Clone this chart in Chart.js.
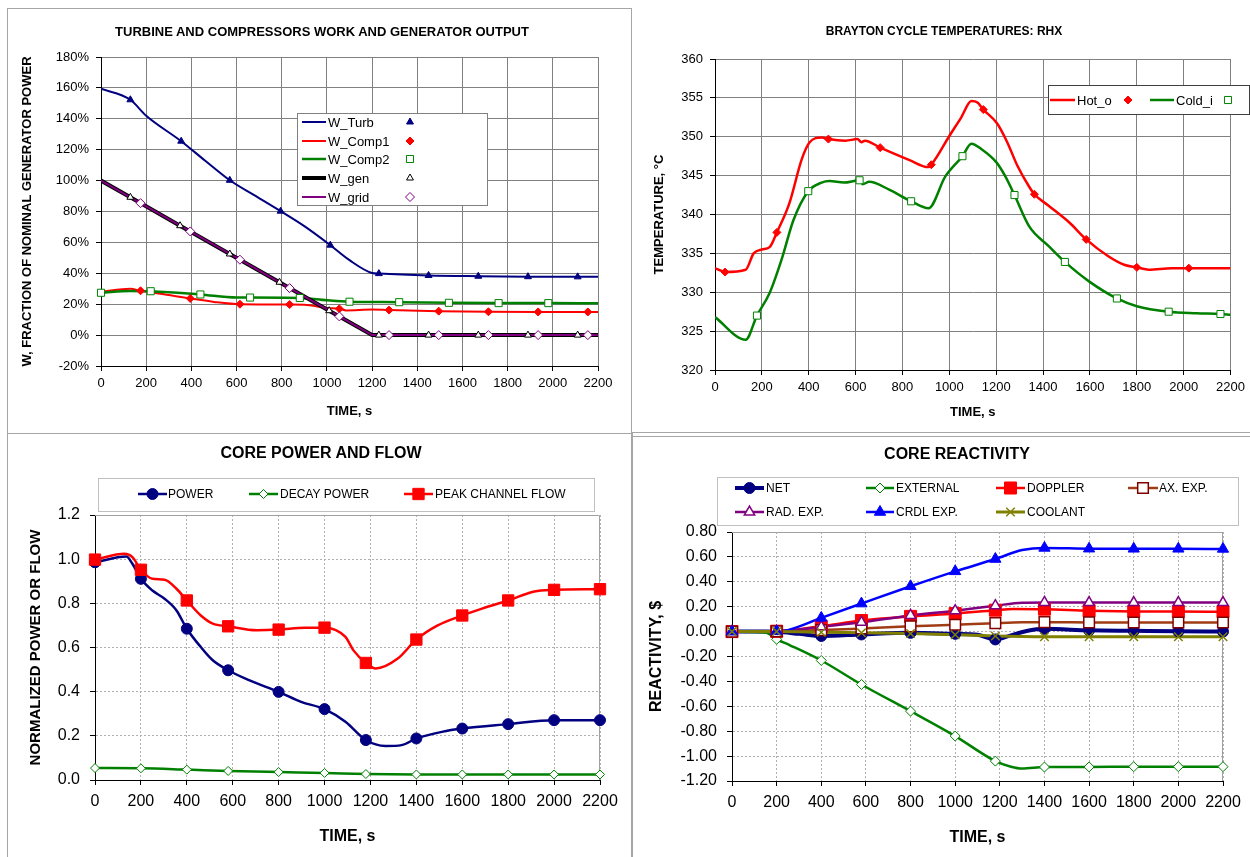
<!DOCTYPE html>
<html>
<head>
<meta charset="utf-8">
<script src="https://cdn.jsdelivr.net/npm/chart.js@4.4.0/dist/chart.umd.min.js"></script>
<style>
  body { margin: 0; background: #fff; width: 1250px; height: 857px; overflow: hidden; position: relative;
         font-family: "Liberation Sans", Arial, sans-serif; }
  canvas { position: absolute; }
  .ttl { position: absolute; font-weight: bold; transform: translate(-50%, -50%); white-space: nowrap; color: #000; }
  .bx { position: absolute; border: 0 solid #a6a6a6; box-sizing: border-box; }
</style>
</head>
<body>
<div class="bx" style="left:7px;top:8px;width:625px;height:426px;border-width:1px;"></div>
<div class="bx" style="left:631px;top:10px;width:619px;height:423px;border-left-width:1px;border-bottom-width:1px;"></div>
<div class="bx" style="left:7px;top:433px;width:626px;height:430px;border-left-width:1px;border-right-width:2px;"></div>
<div class="bx" style="left:632px;top:436px;width:618px;height:1px;border-top-width:1px;"></div>

<canvas id="c1" width="622" height="423" style="left:8px;top:9px"></canvas>
<canvas id="c2" width="618" height="423" style="left:632px;top:9px"></canvas>
<canvas id="c3" width="622" height="423" style="left:8px;top:434px"></canvas>
<canvas id="c4" width="618" height="423" style="left:632px;top:434px"></canvas>

<div class="ttl" style="left:322px;top:31px;font-size:13px">TURBINE AND COMPRESSORS WORK AND GENERATOR OUTPUT</div>
<div class="ttl" style="left:944px;top:31px;font-size:12px">BRAYTON CYCLE TEMPERATURES: RHX</div>
<div class="ttl" style="left:321px;top:453px;font-size:16px">CORE POWER AND FLOW</div>
<div class="ttl" style="left:957px;top:454px;font-size:16px">CORE REACTIVITY</div>

<script>
// ---- tick labels ----
const timeTicks  = [0, 200, 400, 600, 800, 1000, 1200, 1400, 1600, 1800, 2000, 2200];
const workTicks  = [-20, 0, 20, 40, 60, 80, 100, 120, 140, 160, 180];
const tempTicks  = [320, 325, 330, 335, 340, 345, 350, 355, 360];
const normTicks  = [0, 0.2, 0.4, 0.6, 0.8, 1.0, 1.2];
const reactTicks = [-1.2, -1.0, -0.8, -0.6, -0.4, -0.2, 0, 0.2, 0.4, 0.6, 0.8];

// ---- panel 1: work, % of nominal generator power ----
const turbT  = [0, 130, 200, 355, 460, 570, 680, 795, 900, 1015, 1100, 1200, 1230, 1450, 1670, 1890, 2110, 2200];
const turbV  = [159.5, 152.3, 142, 125.5, 113, 100.2, 90.4, 80.2, 70.5, 58.2, 48.5, 40.2, 39.8, 38.6, 38.1, 37.8, 37.7, 37.7];
const turbMk = [130, 355, 570, 795, 1015, 1230, 1450, 1670, 1890, 2110];

const comp1T  = [0, 130, 175, 300, 395, 500, 615, 835, 900, 1000, 1055, 1085, 1200, 1275, 1495, 1715, 1935, 2155, 2200];
const comp1V  = [28, 30, 28.7, 26, 23.7, 21.5, 20, 19.8, 19.7, 17.5, 17, 16, 16.5, 16.2, 15.5, 15.1, 15, 15, 15];
const comp1Mk = [175, 395, 615, 835, 1055, 1275, 1495, 1715, 1935, 2155];

const comp2T  = [0, 130, 220, 440, 600, 660, 880, 1000, 1100, 1320, 1540, 1760, 1980, 2200];
const comp2V  = [27.4, 28.6, 28.4, 26.3, 24.3, 24.3, 24, 22.5, 21.6, 21.3, 20.9, 20.7, 20.7, 20.6];
const comp2Mk = [0, 220, 440, 660, 880, 1100, 1320, 1540, 1760, 1980];

const genT  = [0, 130, 350, 570, 790, 1010, 1200, 1230, 1450, 1670, 1890, 2110, 2200];
const genV  = [100, 89.2, 70.8, 52.5, 34.2, 15.8, 0, 0, 0, 0, 0, 0, 0];
const genMk = [130, 350, 570, 790, 1010, 1230, 1450, 1670, 1890, 2110];

const gridT  = [0, 175, 395, 615, 835, 1055, 1200, 1275, 1495, 1715, 1935, 2155, 2200];
const gridV  = [100, 85.4, 67.1, 48.8, 30.4, 12.1, 0, 0, 0, 0, 0, 0, 0];
const gridMk = [175, 395, 615, 835, 1055, 1275, 1495, 1715, 1935, 2155];

// ---- panel 2: RHX temperatures, C ----
const hotT  = [0, 43, 131, 165, 200, 233, 264, 318, 370, 404, 455, 484, 557, 608, 625, 640, 705, 830, 910, 923,
               1000, 1051, 1094, 1120, 1145, 1204, 1247, 1290, 1340, 1363, 1425, 1511, 1584, 1680, 1749, 1800, 1851, 1950, 2022, 2200];
const hotV  = [333.1, 332.6, 332.9, 335.0, 335.5, 335.8, 337.7, 341.5, 347.1, 349.3, 349.9, 349.7, 349.5, 349.7, 349.3, 349.5, 348.6, 347.0, 346.1, 346.4,
               350.1, 352.5, 354.6, 354.4, 353.5, 351.7, 349.3, 346.3, 343.6, 342.6, 341.1, 339.0, 336.8, 334.6, 333.5, 333.2, 332.9, 333.1, 333.1, 333.1];
const hotMk = [43, 264, 484, 705, 923, 1145, 1363, 1584, 1800, 2022];

const coldT  = [0, 131, 179, 233, 284, 335, 398, 455, 489, 550, 617, 630, 658, 743, 837, 911, 983, 1056, 1094, 1137,
                1201, 1239, 1278, 1340, 1425, 1493, 1596, 1715, 1800, 1936, 2055, 2157, 2200];
const coldV  = [326.8, 323.9, 327.0, 329.9, 334.2, 339.3, 343.0, 344.1, 344.3, 344.1, 344.4, 343.9, 344.2, 343.2, 341.7, 340.8, 344.9, 347.5, 349.1, 348.4,
                346.7, 344.9, 342.5, 338.5, 335.9, 333.9, 331.4, 329.2, 328.2, 327.5, 327.3, 327.2, 327.1];
const coldMk = [179, 398, 617, 837, 1056, 1278, 1493, 1715, 1936, 2157];

// ---- panel 3: normalized core power and flow ----
const markTimes = [0, 200, 400, 580, 800, 1000, 1180, 1400, 1600, 1800, 2000, 2200];

const powT = [0, 137, 163, 200, 250, 303, 355, 400, 461, 513, 580, 671, 800, 898, 1000, 1091, 1180, 1266, 1336, 1400, 1511, 1600, 1800, 2000, 2200];
const powV = [0.986, 1.012, 0.979, 0.911, 0.858, 0.821, 0.768, 0.685, 0.602, 0.542, 0.497, 0.452, 0.399, 0.354, 0.321, 0.264, 0.181, 0.154, 0.158, 0.188, 0.218, 0.233, 0.253, 0.271, 0.271];

const decayT = [0, 200, 400, 580, 800, 1000, 1180, 1400, 1600, 1800, 2000, 2200];
const decayV = [0.054, 0.053, 0.047, 0.041, 0.036, 0.032, 0.027, 0.025, 0.025, 0.025, 0.025, 0.025];

const flowT = [0, 128, 163, 200, 250, 303, 355, 400, 461, 513, 580, 705, 800, 915, 1000, 1091, 1126, 1180, 1223, 1319, 1400, 1493, 1600, 1686, 1800, 1914, 2000, 2200];
const flowV = [0.998, 1.024, 1.009, 0.952, 0.911, 0.907, 0.866, 0.813, 0.745, 0.708, 0.696, 0.678, 0.681, 0.690, 0.690, 0.648, 0.587, 0.530, 0.505, 0.550, 0.636, 0.700, 0.745, 0.776, 0.813, 0.854, 0.861, 0.864];

// ---- panel 4: core reactivity, $ ----
const netT  = [0, 150, 200, 300, 400, 580, 800, 1000, 1100, 1180, 1250, 1320, 1400, 1600, 1800, 2000, 2200];
const netV  = [0, 0, -0.002, -0.018, -0.035, -0.023, -0.01, -0.018, -0.025, -0.063, -0.03, 0.005, 0.022, 0.01, 0.006, 0.002, 0];
const extT  = [0, 150, 200, 260, 400, 580, 800, 1000, 1180, 1250, 1300, 1400, 1600, 1800, 2000, 2200];
const extV  = [0, -0.008, -0.062, -0.11, -0.232, -0.425, -0.639, -0.839, -1.04, -1.085, -1.1, -1.088, -1.087, -1.085, -1.085, -1.085];
const dopT  = [0, 200, 400, 580, 800, 1000, 1180, 1260, 1400, 1600, 1800, 2000, 2200];
const dopV  = [0, 0.003, 0.043, 0.089, 0.122, 0.145, 0.172, 0.182, 0.18, 0.168, 0.162, 0.161, 0.16];
const axT   = [0, 200, 400, 580, 800, 1000, 1180, 1300, 1400, 1600, 1800, 2000, 2200];
const axV   = [0, 0.002, 0.012, 0.025, 0.042, 0.055, 0.068, 0.075, 0.076, 0.074, 0.073, 0.073, 0.073];
const radT  = [0, 200, 400, 580, 800, 1000, 1180, 1300, 1400, 1600, 1800, 2000, 2200];
const radV  = [0, 0.002, 0.038, 0.075, 0.13, 0.168, 0.208, 0.232, 0.234, 0.233, 0.233, 0.233, 0.233];
const crdlT = [0, 200, 250, 400, 580, 800, 1000, 1180, 1300, 1400, 1600, 1800, 2000, 2200];
const crdlV = [0, 0.002, 0.012, 0.11, 0.225, 0.364, 0.484, 0.583, 0.655, 0.672, 0.666, 0.665, 0.665, 0.664];
const coolT = [0, 200, 400, 580, 800, 1000, 1180, 1300, 1400, 1600, 1800, 2000, 2200];
const coolV = [0, 0, -0.005, -0.01, -0.016, -0.025, -0.035, -0.04, -0.042, -0.042, -0.042, -0.042, -0.042];

// ---- helpers ----
const fam = '"Liberation Sans", Arial, sans-serif';
Chart.defaults.font.family = fam;
Chart.defaults.color = '#000';

const pts  = (t, v) => t.map((x, i) => ({ x, y: v[i] }));
const pick = (t, v, mk) => pts(t, v).filter(p => mk.includes(p.x));

// legend boxes and plot frames, in canvas pixels
const frames = { c3: '#a0a0a0', c4: '#a0a0a0' };
const legends = {
  c1: { box: [289, 104, 190, 92], border: '#808080', font: '13px ' + fam, items: [
    { k: 0, label: 'W_Turb',  x0: 294, x1: 318, y: 113, tx: 320, mx: 402 },
    { k: 1, label: 'W_Comp1', x0: 294, x1: 318, y: 132, tx: 320, mx: 402 },
    { k: 2, label: 'W_Comp2', x0: 294, x1: 318, y: 150, tx: 320, mx: 402 },
    { k: 3, label: 'W_gen',   x0: 294, x1: 318, y: 169, tx: 320, mx: 402 },
    { k: 4, label: 'W_grid',  x0: 294, x1: 318, y: 188, tx: 320, mx: 402 } ] },
  c2: { box: [416, 76, 201, 29], border: '#404040', font: '13px ' + fam, items: [
    { k: 0, label: 'Hot_o',  x0: 418, x1: 443, y: 91, tx: 445, mx: 496 },
    { k: 1, label: 'Cold_i', x0: 518, x1: 542, y: 91, tx: 544, mx: 596 } ] },
  c3: { box: [90, 44, 496, 33], border: '#c0c0c0', font: '12px ' + fam, items: [
    { k: 0, label: 'POWER',             x0: 130, x1: 159, y: 60, tx: 160 },
    { k: 1, label: 'DECAY POWER',       x0: 241, x1: 270, y: 60, tx: 272 },
    { k: 2, label: 'PEAK CHANNEL FLOW', x0: 396, x1: 425, y: 60, tx: 427 } ] },
  c4: { box: [85, 43, 521, 48], border: '#c0c0c0', font: '12px ' + fam, items: [
    { k: 0, label: 'NET',       x0: 103, x1: 132, y: 54, tx: 134 },
    { k: 1, label: 'EXTERNAL',  x0: 234, x1: 262, y: 54, tx: 264 },
    { k: 2, label: 'DOPPLER',   x0: 364, x1: 393, y: 54, tx: 395 },
    { k: 3, label: 'AX. EXP.',  x0: 496, x1: 526, y: 54, tx: 527 },
    { k: 4, label: 'RAD. EXP.', x0: 103, x1: 132, y: 78, tx: 134 },
    { k: 5, label: 'CRDL EXP.', x0: 234, x1: 262, y: 78, tx: 264 },
    { k: 6, label: 'COOLANT',   x0: 364, x1: 393, y: 78, tx: 395 } ] }
};

Chart.register({
  id: 'frame',
  beforeDatasetsDraw(chart) {
    const col = frames[chart.canvas.id];
    if (!col) return;
    const { left, top, right, bottom } = chart.chartArea;
    const ctx = chart.ctx;
    ctx.save();
    ctx.strokeStyle = col; ctx.lineWidth = 1;
    ctx.beginPath();
    ctx.moveTo(left, Math.round(top) + 0.5);
    ctx.lineTo(Math.round(right) - 0.5, Math.round(top) + 0.5);
    ctx.lineTo(Math.round(right) - 0.5, bottom);
    ctx.stroke();
    ctx.restore();
  }
});

Chart.register({
  id: 'boxLegend',
  afterDraw(chart) {
    const L = legends[chart.canvas.id];
    if (!L) return;
    const ctx = chart.ctx;
    const [bx, by, bw, bh] = L.box;
    ctx.save();
    ctx.fillStyle = '#fff';
    ctx.fillRect(bx, by, bw, bh);
    ctx.strokeStyle = L.border; ctx.lineWidth = 1;
    ctx.strokeRect(bx + 0.5, by + 0.5, bw, bh);
    ctx.font = L.font; ctx.textBaseline = 'middle'; ctx.textAlign = 'left';
    L.items.forEach(it => {
      const ln = chart.data.datasets[it.k * 2], mk = chart.data.datasets[it.k * 2 + 1];
      ctx.strokeStyle = ln.borderColor; ctx.lineWidth = ln.borderWidth;
      ctx.beginPath(); ctx.moveTo(it.x0, it.y); ctx.lineTo(it.x1, it.y); ctx.stroke();
      ctx.fillStyle = mk.pointBackgroundColor; ctx.strokeStyle = mk.pointBorderColor;
      ctx.lineWidth = mk.pointBorderWidth;
      Chart.helpers.drawPoint(ctx, { pointStyle: mk.pointStyle, radius: mk.pointRadius,
        borderWidth: mk.pointBorderWidth, rotation: 0 }, it.mx ?? (it.x0 + it.x1) / 2, it.y);
      ctx.fillStyle = '#000';
      ctx.fillText(it.label, it.tx, it.y + 1);
    });
    ctx.restore();
  }
});

function build(id, sets, o) {
  const datasets = [];
  sets.forEach((s, k) => {
    datasets.push({ data: pts(s.t, s.v), borderColor: s.color, borderWidth: s.w, pointRadius: 0, fill: false,
      tension: s.straight ? 0 : 0.4, cubicInterpolationMode: s.straight ? 'default' : 'monotone', order: 100 - k });
    datasets.push({ data: pick(s.t, s.v, s.mk), showLine: false, clip: false,
      pointStyle: s.m.style, pointRadius: s.m.r, pointBorderWidth: s.m.bw || 1,
      pointBackgroundColor: s.m.fill, pointBorderColor: s.m.stroke || s.color, order: 50 - k });
  });
  const grid = { color: o.grid, tickColor: '#000', tickLength: 5 };
  const border = { color: '#000', width: 1, dash: o.dash || [] };
  return new Chart(document.getElementById(id), {
    type: 'line',
    data: { datasets },
    options: {
      responsive: false, animation: false, events: [],
      layout: { padding: { left: 0, top: o.top, right: o.right, bottom: 0 } },
      plugins: { legend: { display: false }, tooltip: { enabled: false } },
      scales: {
        x: { type: 'linear', min: 0, max: 2200,
             afterBuildTicks: s => { s.ticks = timeTicks.map(value => ({ value })); },
             afterFit: s => { s.height = o.xh; },
             ticks: { autoSkip: false, maxRotation: 0, color: '#000', font: { size: o.tick }, padding: o.xpad,
                      callback: v => String(v) },
             grid, border,
             title: { display: true, text: 'TIME, s', color: '#000', font: { size: o.xt, weight: 'bold' },
                      padding: { top: 0, bottom: o.xtp } } },
        y: { type: 'linear', min: o.yTicks[0], max: o.yTicks[o.yTicks.length - 1],
             afterBuildTicks: s => { s.ticks = o.yTicks.map(value => ({ value })); },
             afterFit: s => { s.width = o.left; },
             ticks: { autoSkip: false, color: '#000', font: { size: o.tick }, padding: o.ypad, callback: o.fmt },
             grid, border,
             title: { display: true, text: o.ytitle, color: '#000', font: { size: o.yt, weight: 'bold' },
                      padding: { top: o.ytp, bottom: 0 } } }
      }
    }
  });
}

const open = '#ffffff';

build('c1', [
  { t: turbT,  v: turbV,  mk: turbMk,  color: '#000080', w: 2,   m: { style: 'triangle', r: 4, fill: '#000080' } },
  { t: comp1T, v: comp1V, mk: comp1Mk, color: '#ff0000', w: 2,   m: { style: 'rectRot',  r: 4, fill: '#ff0000' } },
  { t: comp2T, v: comp2V, mk: comp2Mk, color: '#008000', w: 2.5, m: { style: 'rect',     r: 5, fill: open } },
  { t: genT,   v: genV,   mk: genMk,   color: '#000000', w: 4,   straight: true, m: { style: 'triangle', r: 4, fill: open } },
  { t: gridT,  v: gridV,  mk: gridMk,  color: '#800080', w: 2,   straight: true, m: { style: 'rectRot',  r: 4.5, fill: open } }
], { top: 48, right: 32, left: 93, xh: 66, tick: 13, xpad: 5, ypad: 7, grid: '#808080',
     xt: 13, xtp: 13, yt: 13, ytp: 12, yTicks: workTicks, fmt: v => v + '%',
     ytitle: 'W, FRACTION OF NOMINAL GENERATOR POWER' });

build('c2', [
  { t: hotT,  v: hotV,  mk: hotMk,  color: '#ff0000', w: 2.5, m: { style: 'rectRot', r: 4, fill: '#ff0000' } },
  { t: coldT, v: coldV, mk: coldMk, color: '#008000', w: 2.5, m: { style: 'rect',    r: 5, fill: open } }
], { top: 50, right: 18, left: 83, xh: 62, tick: 13, xpad: 5, ypad: 7, grid: '#808080',
     xt: 13, xtp: 12, yt: 13, ytp: 20, yTicks: tempTicks, fmt: v => v,
     ytitle: 'TEMPERATURE, °C' });

build('c3', [
  { t: powT,   v: powV,   mk: markTimes, color: '#000080', w: 2.5, m: { style: 'circle',  r: 5.5, fill: '#000080' } },
  { t: decayT, v: decayV, mk: markTimes, color: '#008000', w: 2.5, m: { style: 'rectRot', r: 4.5, fill: open } },
  { t: flowT,  v: flowV,  mk: markTimes, color: '#ff0000', w: 2.5, m: { style: 'rect',    r: 8,   fill: '#ff0000' } }
], { top: 81, right: 30, left: 87, xh: 77, tick: 16, xpad: 7, ypad: 10, grid: '#b0b0b0', dash: [2, 2],
     xt: 16, xtp: 11, yt: 15, ytp: 19, yTicks: normTicks, fmt: v => v.toFixed(1),
     ytitle: 'NORMALIZED POWER OR FLOW' });

build('c4', [
  { t: netT,  v: netV,  mk: markTimes, color: '#000080', w: 4,   m: { style: 'circle',   r: 5.5, fill: '#000080' } },
  { t: extT,  v: extV,  mk: markTimes, color: '#008000', w: 2.5, m: { style: 'rectRot',  r: 5,   fill: open } },
  { t: dopT,  v: dopV,  mk: markTimes, color: '#ff0000', w: 2.5, m: { style: 'rect',     r: 8.5, fill: '#ff0000' } },
  { t: axT,   v: axV,   mk: markTimes, color: '#a03c14', w: 2.5, m: { style: 'rect',     r: 7.5, fill: open, stroke: '#800000', bw: 1.5 } },
  { t: radT,  v: radV,  mk: markTimes, color: '#800080', w: 2.5, m: { style: 'triangle', r: 6,   fill: open, bw: 1.5 } },
  { t: crdlT, v: crdlV, mk: markTimes, color: '#0000ff', w: 2.5, m: { style: 'triangle', r: 6.5, fill: '#0000ff' } },
  { t: coolT, v: coolV, mk: markTimes, color: '#808000', w: 3,   m: { style: 'crossRot', r: 6,   fill: open, bw: 1.5 } }
], { top: 98, right: 27, left: 100, xh: 76, tick: 16, xpad: 7, ypad: 10, grid: '#b0b0b0', dash: [2, 2],
     xt: 16, xtp: 10, yt: 16, ytp: 15, yTicks: reactTicks, fmt: v => v.toFixed(2),
     ytitle: 'REACTIVITY, $' });
</script>
</body>
</html>
